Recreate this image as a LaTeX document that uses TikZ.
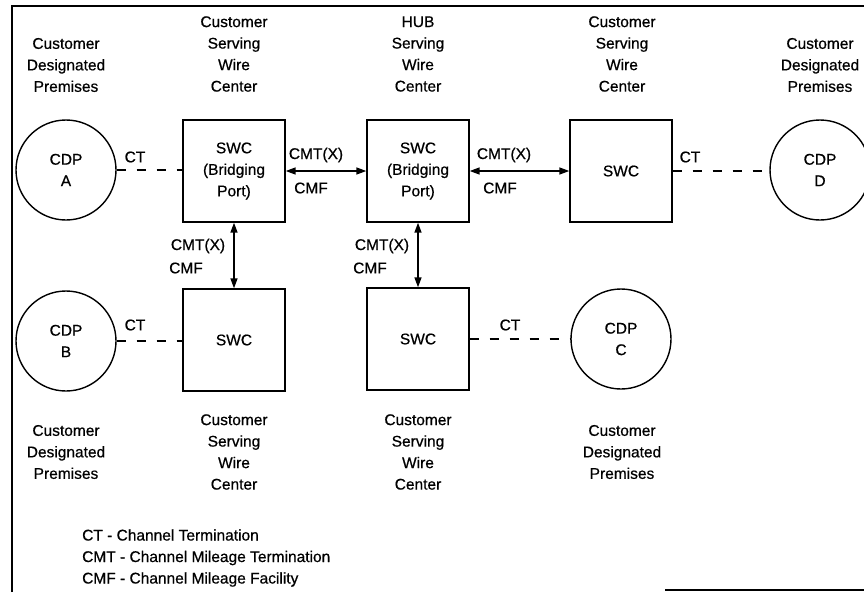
\documentclass[tikz,border=0pt]{standalone}
\usepackage{fontspec}
\setmainfont{Liberation Sans}[FakeBold=0.6]
\usetikzlibrary{arrows.meta}
\begin{document}
\begin{tikzpicture}[x=1pt,y=-1pt,
  every node/.style={font=\fontsize{15.5}{21.5}\selectfont, inner sep=0pt},
  box/.style={draw, line width=1.4pt, minimum width=102pt, minimum height=102pt, align=center},
  cdp/.style={draw, circle, line width=1.4pt, minimum size=100pt, align=center},
  lbl/.style={align=center},
  ctline/.style={line width=1.6pt, dash pattern=on 9pt off 11pt},
  cmline/.style={line width=1.5pt, {Triangle[length=10pt,width=7pt]}-{Triangle[length=10pt,width=7pt]}},
  frame/.style={line width=1.4pt}]
\useasboundingbox (0,0) rectangle (864,592);
% frame
\coordinate (f1) at (12,592);
\coordinate (f2) at (12,6);
\coordinate (f3) at (864,6);
\coordinate (f4) at (665,590);
\coordinate (f5) at (864,590);
\draw[frame] (f1) -- (f2) -- (f3);
\draw[frame] (f4) -- (f5);
% nodes
\node[cdp] (cdpA) at (66,170) {CDP\\A};
\node[box] (swc1) at (234,171) {SWC\\(Bridging\\Port)};
\node[box] (hub) at (418,171) {SWC\\(Bridging\\Port)};
\node[box] (swc2) at (621,171) {SWC};
\node[cdp] (cdpD) at (820,170) {CDP\\D};
\node[cdp] (cdpB) at (66,341) {CDP\\B};
\node[box] (swc3) at (234,340) {SWC};
\node[box] (swc4) at (418,339) {SWC};
\node[cdp] (cdpC) at (621,339) {CDP\\C};
% captions
\node[lbl] (capA) at (66,65) {Customer\\Designated\\Premises};
\node[lbl] (cap1) at (234,54) {Customer\\Serving\\Wire\\Center};
\node[lbl] (caph) at (418,54) {HUB\\Serving\\Wire\\Center};
\node[lbl] (cap2) at (622,54) {Customer\\Serving\\Wire\\Center};
\node[lbl] (capD) at (820,65) {Customer\\Designated\\Premises};
\node[lbl] (capB) at (66,452) {Customer\\Designated\\Premises};
\node[lbl] (cap3) at (234,452) {Customer\\Serving\\Wire\\Center};
\node[lbl] (cap4) at (418,452) {Customer\\Serving\\Wire\\Center};
\node[lbl] (capC) at (622,452) {Customer\\Designated\\Premises};
\node[align=left, anchor=west] (legend) at (82,558) {CT - Channel Termination\\CMT - Channel Mileage Termination\\CMF - Channel Mileage Facility};
% connectors
\draw[ctline] (cdpA.east) -- (cdpA.east -| swc1.west);
\draw[cmline] (swc1.east) -- (hub.west);
\draw[cmline] (hub.east) -- (swc2.west);
\draw[ctline] (swc2.east) -- (swc2.east -| cdpD.west);
\draw[cmline] (swc1.south) -- (swc3.north);
\draw[cmline] (hub.south) -- (swc4.north);
\draw[ctline] (cdpB.east) -- (cdpB.east -| swc3.west);
\draw[ctline] (swc4.east) -- (swc4.east -| cdpC.west);
% connector labels
\node (ctA) at (135,157) {CT};
\node (cmt1) at (316,155) {CMT(X)};
\node (cmf1) at (311,188) {CMF};
\node (cmt2) at (504,155) {CMT(X)};
\node (cmf2) at (500,188) {CMF};
\node (ctD) at (690,157) {CT};
\node (cmt3) at (198,246) {CMT(X)};
\node (cmf3) at (186,268) {CMF};
\node (cmt4) at (382,246) {CMT(X)};
\node (cmf4) at (370,268) {CMF};
\node (ctB) at (135,325) {CT};
\node (ctC) at (510,325) {CT};
\end{tikzpicture}
\end{document}
